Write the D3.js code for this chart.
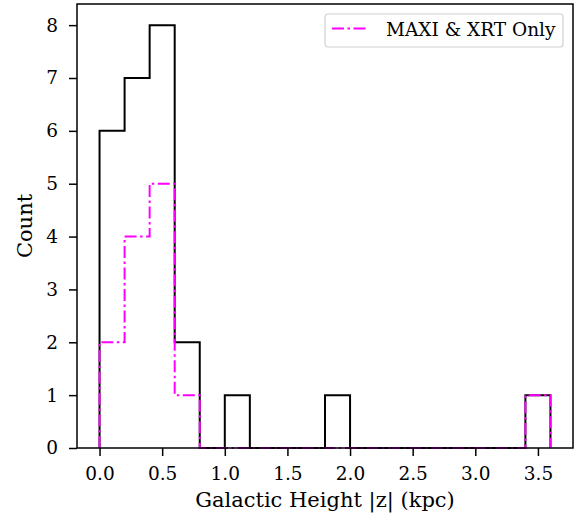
<!DOCTYPE html>
<html lang="en">
<head>
  <meta charset="utf-8">
  <title>Galactic height histogram</title>
  <script src="https://d3js.org/d3.v7.min.js"></script>
  <style>
    body { margin: 0; background: #fff; }
    text { font-family: "DejaVu Serif", serif; fill: #000; }
  </style>
</head>
<body>
  <div id="chart"></div>
  <script>
    // bin edges (kpc) and counts per bin
    var binEdges = [0, 0.2, 0.4, 0.6, 0.8, 1.0, 1.2, 1.4, 1.6, 1.8, 2.0, 2.2, 2.4, 2.6, 2.8, 3.0, 3.2, 3.4, 3.6];
    var allCounts = [6, 7, 8, 2, 0, 1, 0, 0, 0, 1, 0, 0, 0, 0, 0, 0, 0, 1];
    var maxiXrtCounts = [2, 4, 5, 1, 0, 0, 0, 0, 0, 0, 0, 0, 0, 0, 0, 0, 0, 1];
    var xTicks = [0.0, 0.5, 1.0, 1.5, 2.0, 2.5, 3.0, 3.5];
    var yTicks = [0, 1, 2, 3, 4, 5, 6, 7, 8];
    var legendLabel = 'MAXI & XRT Only';

    var w = 579, h = 518;
    var margin = {top: 4, right: 6, bottom: 70, left: 77};
    var innerW = w - margin.left - margin.right,
        innerH = h - margin.top - margin.bottom;
    var dash = '12,3.5,2.5,3.5';

    var svg = d3.select('#chart').append('svg')
        .attr('width', w)
        .attr('height', h);
    var g = svg.append('g')
        .attr('transform', 'translate(' + [margin.left, margin.top] + ')');

    var x = d3.scaleLinear().domain([-0.18, 3.78]).range([0, innerW]);
    var y = d3.scaleLinear().domain([0, 8.4]).range([innerH, 0]);

    // step outline like matplotlib histtype='step'
    function stepPoints(counts) {
      var pts = [[binEdges[0], 0]];
      counts.forEach(function(c, i) {
        pts.push([binEdges[i], c]);
        pts.push([binEdges[i + 1], c]);
      });
      pts.push([binEdges[binEdges.length - 1], 0]);
      return pts;
    }
    var line = d3.line()
      .x(function(d) { return x(d[0]); })
      .y(function(d) { return y(d[1]); });

    g.append('path')
      .attr('d', line(stepPoints(allCounts)))
      .attr('fill', 'none')
      .attr('stroke', '#000')
      .attr('stroke-width', 2);

    g.append('path')
      .attr('d', line(stepPoints(maxiXrtCounts)))
      .attr('fill', 'none')
      .attr('stroke', '#ff00ff')
      .attr('stroke-width', 2)
      .attr('stroke-dasharray', dash);

    // axes
    var xAxis = g.append('g')
      .attr('transform', 'translate(0,' + innerH + ')')
      .call(d3.axisBottom(x).tickValues(xTicks).tickFormat(d3.format('.1f')).tickSize(8).tickPadding(11));
    var yAxis = g.append('g')
      .call(d3.axisLeft(y).tickValues(yTicks).tickFormat(d3.format('d')).tickSize(8).tickPadding(11));
    [xAxis, yAxis].forEach(function(a) {
      a.select('.domain').remove();
      a.selectAll('line').attr('stroke', '#000').attr('stroke-width', 1.5);
      a.selectAll('text').style('font-family', '"DejaVu Serif", serif').style('font-size', '18.5px');
    });

    // frame
    g.append('rect')
      .attr('width', innerW).attr('height', innerH)
      .attr('fill', 'none').attr('stroke', '#000').attr('stroke-width', 1.5);

    // labels
    svg.append('text')
      .attr('x', margin.left + innerW / 2)
      .attr('y', 507)
      .attr('text-anchor', 'middle')
      .style('font-size', '21px')
      .text('Galactic Height |z| (kpc)');
    svg.append('text')
      .attr('transform', 'translate(32,' + (margin.top + innerH / 2) + ') rotate(-90)')
      .attr('text-anchor', 'middle')
      .style('font-size', '21px')
      .text('Count');

    // legend
    var lg = svg.append('g').attr('transform', 'translate(325,14)');
    lg.append('rect')
      .attr('width', 238).attr('height', 33).attr('rx', 3)
      .attr('fill', '#fff').attr('fill-opacity', 0.8)
      .attr('stroke', '#d0d0d0').attr('stroke-width', 1.2);
    lg.append('line')
      .attr('x1', 7).attr('x2', 44).attr('y1', 14.5).attr('y2', 14.5)
      .attr('stroke', '#ff00ff').attr('stroke-width', 2)
      .attr('stroke-dasharray', dash);
    lg.append('text')
      .attr('x', 61).attr('y', 22)
      .style('font-size', '18.5px')
      .text(legendLabel);
  </script>
</body>
</html>
